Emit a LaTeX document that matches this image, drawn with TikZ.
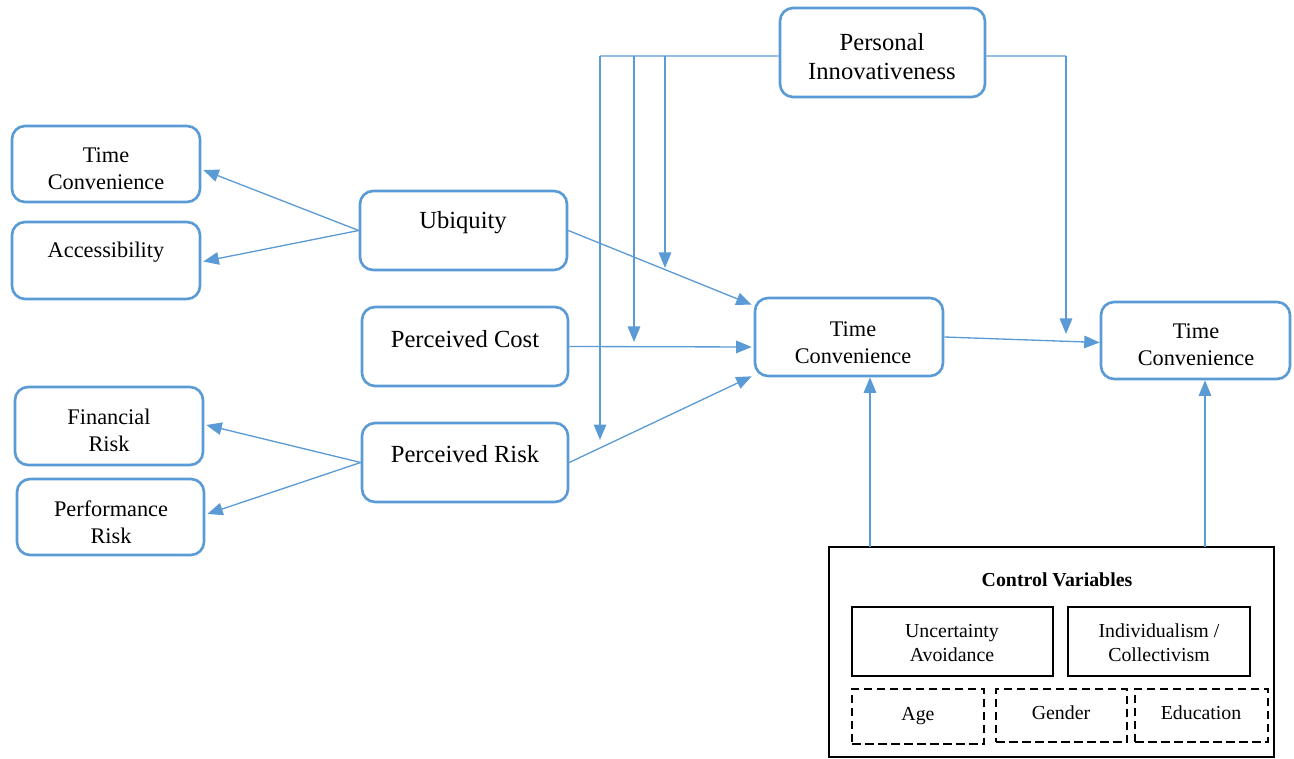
\documentclass[tikz,border=0pt]{standalone}
\usepackage{fontspec}
\setmainfont{Liberation Serif}
\usetikzlibrary{arrows.meta,calc}
\definecolor{bl}{HTML}{5B9BD5}
\tikzset{
  bbox/.style={draw=bl, line width=1.5pt, rounded corners=0.26cm, inner sep=0pt},
  kbox/.style={draw=black, line width=1.4pt, inner sep=0pt},
  dbox/.style={draw=black, line width=1.5pt, inner sep=0pt, dash pattern=on 0.17cm off 0.09cm},
  tbig/.style={inner sep=0pt, align=center, yshift=-0.04cm, font=\fontsize{14}{16.4}\selectfont},
  tsm/.style={inner sep=0pt, align=center, yshift=-0.03cm, font=\fontsize{12.7}{15.3}\selectfont},
  tcv/.style={inner sep=0pt, align=center, yshift=-0.02cm, font=\fontsize{11.3}{13.6}\selectfont},
  arr/.style={draw=bl, line width=0.75pt, -{Triangle[length=0.31cm,width=0.25cm]}},
  ln/.style={draw=bl, line width=0.75pt}
}
\begin{document}
\begin{tikzpicture}[x=0.02cm,y=-0.02cm]
\useasboundingbox (0,0) rectangle (1294,759);
% boxes
\node[bbox, minimum width=4.10cm, minimum height=1.78cm] (pi) at (882.5,52.5) {};
\node[bbox, minimum width=3.76cm, minimum height=1.52cm] (ltc) at (106,164) {};
\node[bbox, minimum width=3.76cm, minimum height=1.54cm] (acc) at (106,260.5) {};
\node[bbox, minimum width=4.14cm, minimum height=1.58cm] (ubq) at (463.5,230.5) {};
\node[bbox, minimum width=4.12cm, minimum height=1.58cm] (pcost) at (465,346.5) {};
\node[bbox, minimum width=4.12cm, minimum height=1.58cm] (prisk) at (465,462.5) {};
\node[bbox, minimum width=3.76cm, minimum height=1.56cm] (fin) at (109,426) {};
\node[bbox, minimum width=3.74cm, minimum height=1.52cm] (perf) at (110.5,517) {};
\node[bbox, minimum width=3.76cm, minimum height=1.56cm] (mtc) at (849,337) {};
\node[bbox, minimum width=3.78cm, minimum height=1.54cm] (rtc) at (1195.5,340.5) {};
% texts
\node[tbig] (pi-t) at (882,54.5) {Personal\\Innovativeness};
\node[tsm] (ltc-t) at (106,167.5) {Time\\Convenience};
\node[tsm] (acc-t) at (106,251) {Accessibility};
\node[tbig] (ubq-t) at (463,221) {Ubiquity};
\node[tbig] (pcost-t) at (465,337) {Perceived Cost};
\node[tbig] (prisk-t) at (465,452) {Perceived Risk};
\node[tsm] (fin-t) at (109,428.5) {Financial\\Risk};
\node[tsm] (perf-t) at (111,520.5) {Performance\\Risk};
\node[tsm] (mtc-t) at (853,341) {Time\\Convenience};
\node[tsm] (rtc-t) at (1196,343) {Time\\Convenience};
% control variables
\node[kbox, line width=1.2pt, minimum width=8.90cm, minimum height=4.20cm] (cv) at (1051.5,652) {};
\node[tcv, font=\fontsize{11.3}{13.6}\selectfont\bfseries] (cv-t) at (1057,579) {Control Variables};
\node[kbox, minimum width=4.02cm, minimum height=1.38cm] (ua) at (952.5,641.5) {};
\node[kbox, minimum width=3.64cm, minimum height=1.38cm] (ic) at (1159,641.5) {};
\node[dbox, minimum width=2.64cm, minimum height=1.10cm] (age) at (918,716.5) {};
\node[dbox, minimum width=2.62cm, minimum height=1.06cm] (gen) at (1061.5,715.5) {};
\node[dbox, minimum width=2.66cm, minimum height=1.06cm] (edu) at (1201.5,715.5) {};
\node[tcv] (ua-t) at (952,642) {Uncertainty\\Avoidance};
\node[tcv] (ic-t) at (1159,642) {Individualism /\\Collectivism};
\node[tcv] (age-t) at (918,715) {Age};
\node[tcv] (gen-t) at (1061,712) {Gender};
\node[tcv] (edu-t) at (1201,712) {Education};
% connectors left
\draw[arr] (ubq.west) -- ($(ltc.east)+(2,6)$);
\draw[arr] (ubq.west) -- ($(acc.east)+(2,1)$);
\draw[arr] (prisk.west) -- ($(fin.east)+(2,-1)$);
\draw[arr] (prisk.west) -- ($(perf.east)+(2,-3)$);
% connectors to middle
\draw[arr] (ubq.east) -- ($(mtc.north west)+(-2,8)$);
\draw[arr] (pcost.east) -- ($(mtc.west)+(-2,10)$);
\draw[arr] (prisk.east) -- ($(mtc.south west)+(-2,-1)$);
\draw[arr] (mtc.east) -- ($(rtc.west)+(0,2)$);
% moderator
\coordinate (k0) at (600,56);
\coordinate (k1) at (634,56);
\coordinate (k2) at (665,56);
\coordinate (k3) at (1066,56);
\coordinate (e0) at (600,440);
\coordinate (e1) at (634,342);
\coordinate (e2) at (665,268);
\coordinate (e3) at (1066,334);
\draw[ln] ($(pi.west)+(0,3.5)$) -- (k0);
\draw[arr] (k0) -- (e0);
\draw[arr] (k1) -- (e1);
\draw[arr] (k2) -- (e2);
\draw[ln] ($(pi.east)+(0,3.5)$) -- (k3);
\draw[arr] (k3) -- (e3);
% control arrows
\coordinate (c1) at (870,547);
\coordinate (c2) at (1205,547);
\draw[arr] (c1) -- (c1 |- mtc.south);
\draw[arr] (c2) -- (c2 |- rtc.south);
\end{tikzpicture}
\end{document}
